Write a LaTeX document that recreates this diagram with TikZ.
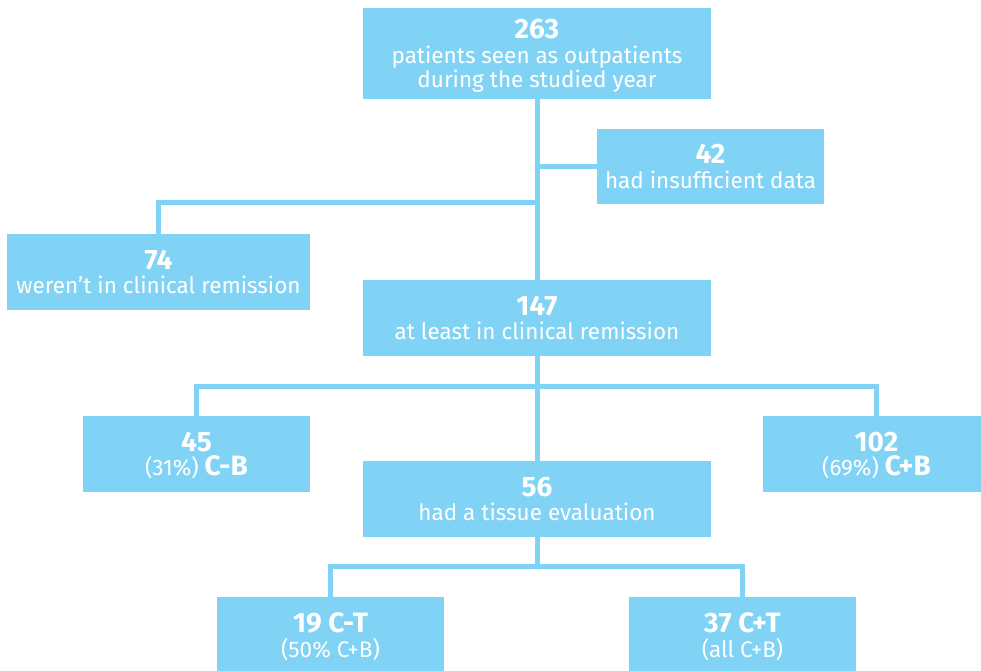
\documentclass[tikz,border=0pt]{standalone}
\usepackage{fontspec}
\setmainfont{Fira Sans}
\definecolor{sky}{HTML}{80D3F5}
\begin{document}
\begin{tikzpicture}[x=1pt,y=-1pt,
  box/.style={fill=sky, draw=none, text=white, align=center, inner sep=0pt,
    minimum height=76pt, text depth=0pt, font=\fontsize{22.5}{24.5}\selectfont},
  conn/.style={draw=sky, line width=5pt}]
\newcommand{\bnum}[1]{{\fontsize{28}{24.5}\selectfont\bfseries #1}}
\clip (0,0) rectangle (981,670);
\fill[white] (0,0) rectangle (981,670);
\node[box, minimum width=348pt, minimum height=91pt] (top) at (537,53.5)
  {\bnum{263}\\patients seen as outpatients\\during the studied year};
\node[box, minimum width=227pt, minimum height=75pt] (n42) at (710.5,166.5)
  {\bnum{42}\\had insufficient data};
\node[box, minimum width=303pt] (n74) at (158.5,272)
  {\bnum{74}\\weren’t in clinical remission};
\node[box, minimum width=348pt] (n147) at (537,318)
  {\bnum{147}\\at least in clinical remission};
\node[box, minimum width=227pt] (n45) at (196.5,454)
  {\bnum{45}\\(31\%) \bnum{C-B}};
\node[box, minimum width=227pt] (n102) at (876.5,454)
  {\bnum{102}\\(69\%) \bnum{C+B}};
\node[box, minimum width=348pt] (n56) at (537,499)
  {\bnum{56}\\had a tissue evaluation};
\node[box, minimum width=227pt] (n19) at (330.5,635)
  {\bnum{19 C-T}\\(50\% C+B)};
\node[box, minimum width=227pt] (n37) at (742.5,635)
  {\bnum{37 C+T}\\(all C+B)};
\coordinate (j1) at (537,202);
\coordinate (j2) at (537,386);
\coordinate (j3) at (537,566);
\draw[conn] (top.south) -- (n147.north);
\draw[conn] (n42.west) -- (n42.west -| top.south);
\draw[conn] (j1) -| (n74.north);
\draw[conn] (n147.south) -- (n56.north);
\draw[conn] (n45.north) |- (j2) -| (n102.north);
\draw[conn] (n56.south) -- (j3);
\draw[conn] (n19.north) |- (j3) -| (n37.north);
\end{tikzpicture}
\end{document}
